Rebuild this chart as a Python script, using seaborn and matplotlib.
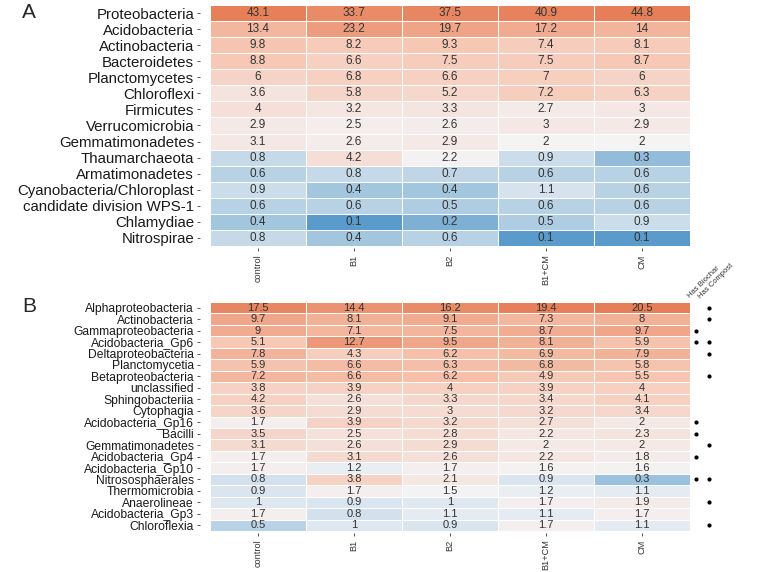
import numpy as np
import pandas as pd
import matplotlib
matplotlib.use("Agg")
import matplotlib.pyplot as plt
import seaborn as sns
from matplotlib.colors import LinearSegmentedColormap, TwoSlopeNorm

sns.set_theme(style="white")
plt.rcParams['font.family'] = ['Liberation Sans', 'DejaVu Sans']

treatments = ["control", "B1", "B2", "B1+CM", "CM"]

phyla = ["Proteobacteria", "Acidobacteria", "Actinobacteria", "Bacteroidetes",
         "Planctomycetes", "Chloroflexi", "Firmicutes", "Verrucomicrobia",
         "Gemmatimonadetes", "Thaumarchaeota", "Armatimonadetes",
         "Cyanobacteria/Chloroplast", "candidate division WPS-1", "Chlamydiae",
         "Nitrospirae"]
phyla_control = [43.1, 13.4, 9.8, 8.8, 6, 3.6, 4, 2.9, 3.1, 0.8, 0.6, 0.9, 0.6, 0.4, 0.8]
phyla_B1 = [33.7, 23.2, 8.2, 6.6, 6.8, 5.8, 3.2, 2.5, 2.6, 4.2, 0.8, 0.4, 0.6, 0.1, 0.4]
phyla_B2 = [37.5, 19.7, 9.3, 7.5, 6.6, 5.2, 3.3, 2.6, 2.9, 2.2, 0.7, 0.4, 0.5, 0.2, 0.6]
phyla_B1CM = [40.9, 17.2, 7.4, 7.5, 7, 7.2, 2.7, 3, 2, 0.9, 0.6, 1.1, 0.6, 0.5, 0.1]
phyla_CM = [44.8, 14, 8.1, 8.7, 6, 6.3, 3, 2.9, 2, 0.3, 0.6, 0.6, 0.6, 0.9, 0.1]

classes = ["Alphaproteobacteria", "Actinobacteria", "Gammaproteobacteria",
           "Acidobacteria_Gp6", "Deltaproteobacteria", "Planctomycetia",
           "Betaproteobacteria", "unclassified", "Sphingobacteriia", "Cytophagia",
           "Acidobacteria_Gp16", "Bacilli", "Gemmatimonadetes", "Acidobacteria_Gp4",
           "Acidobacteria_Gp10", "Nitrososphaerales", "Thermomicrobia",
           "Anaerolineae", "Acidobacteria_Gp3", "Chloroflexia"]
class_control = [17.5, 9.7, 9, 5.1, 7.8, 5.9, 7.2, 3.8, 4.2, 3.6, 1.7, 3.5, 3.1, 1.7, 1.7, 0.8, 0.9, 1, 1.7, 0.5]
class_B1 = [14.4, 8.1, 7.1, 12.7, 4.3, 6.6, 6.6, 3.9, 2.6, 2.9, 3.9, 2.5, 2.6, 3.1, 1.2, 3.8, 1.7, 0.9, 0.8, 1]
class_B2 = [16.2, 9.1, 7.5, 9.5, 6.2, 6.3, 6.2, 4, 3.3, 3, 3.2, 2.8, 2.9, 2.6, 1.7, 2.1, 1.5, 1, 1.1, 0.9]
class_B1CM = [19.4, 7.3, 8.7, 8.1, 6.9, 6.8, 4.9, 3.9, 3.4, 3.2, 2.7, 2.2, 2, 2.2, 1.6, 0.9, 1.2, 1.7, 1.1, 1.7]
class_CM = [20.5, 8, 9.7, 5.9, 7.9, 5.8, 5.5, 4, 4.1, 3.4, 2, 2.3, 2, 1.8, 1.6, 0.3, 1.1, 1.9, 1.7, 1.1]

has_biochar = [0, 0, 1, 1, 0, 0, 0, 0, 0, 0, 1, 1, 0, 1, 0, 1, 0, 0, 0, 0]
has_compost = [1, 1, 0, 1, 1, 0, 1, 0, 0, 0, 0, 0, 1, 0, 0, 1, 0, 1, 0, 1]

dfA = pd.DataFrame({"control": phyla_control, "B1": phyla_B1, "B2": phyla_B2,
                    "B1+CM": phyla_B1CM, "CM": phyla_CM}, index=phyla)[treatments]
dfB = pd.DataFrame({"control": class_control, "B1": class_B1, "B2": class_B2,
                    "B1+CM": class_B1CM, "CM": class_CM}, index=classes)[treatments]

cmap = LinearSegmentedColormap.from_list(
    "rb", ["#5a9bcb", "#a9c9e1", "#f4f4f6", "#f6c6b2", "#e67d56"])

W, H = 757, 572
fig = plt.figure(figsize=(W / 100, H / 100), dpi=100)
fig.patch.set_facecolor("white")


def px_axes(left, top, right, bottom):
    return fig.add_axes([left / W, 1 - bottom / H, (right - left) / W, (bottom - top) / H])


def draw(ax, df, vcenter, vmax, ylabsize, annsize):
    logdf = np.log10(df)
    norm = TwoSlopeNorm(vmin=np.log10(0.1), vcenter=np.log10(vcenter), vmax=np.log10(vmax))
    sns.heatmap(logdf, ax=ax, cmap=cmap, norm=norm, cbar=False,
                annot=df.values, fmt="g", annot_kws={"size": annsize, "color": "#333333"},
                linewidths=0.6, linecolor="white", xticklabels=True, yticklabels=True)
    ax.set_xlabel("")
    ax.set_ylabel("")
    ax.spines["left"].set_position(("outward", 7))
    ax.spines["bottom"].set_position(("outward", 1.5))
    for s in ax.spines.values():
        s.set_visible(False)
    ax.set_xticks(np.arange(len(treatments)) + 0.5)
    ax.set_yticks(np.arange(len(df.index)) + 0.5)
    ax.set_xticklabels(treatments, rotation=90, fontsize=6.6, color="#333333")
    ax.set_yticklabels(df.index, rotation=0, fontsize=ylabsize, color="#1a1a1a")
    ax.tick_params(axis="both", which="both", length=2.5, width=0.7, color="#555555",
                   pad=2.0, left=True, bottom=True)


axA = px_axes(210, 5, 690, 246)
draw(axA, dfA, 2.0, 46, 10.8, 8.5)

axB = px_axes(210, 302, 690, 531)
draw(axB, dfB, 1.45, 21, 8.7, 8.0)

# indicator dots
rows = np.arange(len(classes)) + 0.5
bx = [5.065 if b else np.nan for b in has_biochar]
cx = [5.2 if c else np.nan for c in has_compost]
axB.scatter(bx, rows, s=4, color="black", clip_on=False)
axB.scatter(cx, rows, s=4, color="black", clip_on=False)
axB.text(5.01, -0.2, "Has Biochar", rotation=45, fontsize=5.5, ha="left", va="bottom",
         rotation_mode="anchor", color="#333333")
axB.text(5.13, -0.2, "Has Compost", rotation=45, fontsize=5.5, ha="left", va="bottom",
         rotation_mode="anchor", color="#333333")

fig.text(22 / W, 1 - 13 / H, "A", fontsize=15, va="center", ha="left")
fig.text(22 / W, 1 - 307 / H, "B", fontsize=15, va="center", ha="left")

fig.savefig("out.png", dpi=100, facecolor="white")
